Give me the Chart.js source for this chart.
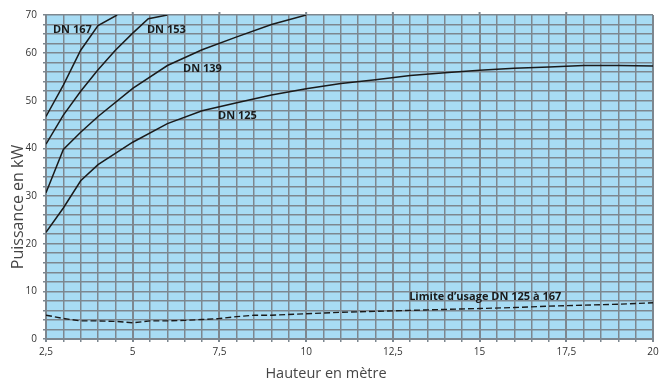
<!DOCTYPE html>
<html>
<head>
<meta charset="utf-8">
<script src="https://cdn.jsdelivr.net/npm/chart.js@4.4.1/dist/chart.umd.min.js"></script>
<style>
    html, body { margin: 0; padding: 0; background: #fff; }
    #wrap { width: 659px; height: 381px; }
</style>
</head>
<body>
<div id="wrap"><canvas id="chart"></canvas></div>
<script>
const heights167 = [2.5, 3, 3.5, 4, 4.55];
const power167 = [46.7, 53.3, 60.6, 65.8, 68];

const heights153 = [2.5, 3, 3.5, 4, 4.5, 5, 5.45, 6];
const power153 = [40.9, 47, 52, 56.5, 60.6, 64.2, 67.2, 68];

const heights139 = [2.5, 3, 3.5, 4, 5, 6, 7, 8, 9, 10];
const power139 = [30.7, 39.8, 43.4, 46.7, 52.6, 57.4, 60.7, 63.4, 66, 68];

const heights125 = [2.5, 3, 3.5, 4, 5, 6, 7, 8, 9, 10, 11, 12, 13, 14, 15, 16, 17, 18, 19, 20];
const power125 = [22.4, 27.5, 33.2, 36.6, 41.3, 45.2, 47.9, 49.6, 51.2, 52.5, 53.6, 54.4, 55.3, 55.9, 56.4, 56.8, 57.1, 57.4, 57.4, 57.3];

const heightsLimit = [2.5, 3, 3.5, 4, 4.5, 5, 5.5, 6, 6.5, 7, 7.5, 8, 8.5, 9, 10, 11, 12, 13, 14, 15, 16, 17, 18, 19, 20];
const powerLimit = [5.0, 4.3, 3.8, 3.8, 3.7, 3.4, 3.8, 3.8, 3.9, 4.1, 4.3, 4.7, 5.0, 5.0, 5.3, 5.6, 5.8, 6.0, 6.2, 6.4, 6.6, 6.9, 7.1, 7.3, 7.6];

// textes posés sur les courbes (coordonnées en unités du graphique)
const curveLabels = ["DN 167", "DN 153", "DN 139", "DN 125", "Limite d’usage DN 125 à 167"];
const curveLabelX = [2.7, 5.41, 6.45, 7.46, 12.97];
const curveLabelY = [64.8, 64.8, 56.75, 46.75, 8.9];

const xTitle = "Hauteur en mètre";
const yTitle = "Puissance en kW";

const gridColor = "#7d878f";
const isMajorX = v => Math.abs(v / 2.5 - Math.round(v / 2.5)) < 1e-6;

function toPoints(xs, ys) {
    return xs.map((x, i) => ({ x: x, y: ys[i] }));
}

const plotDecor = {
    id: "plotDecor",
    beforeDraw(chart) {
        const { ctx, chartArea } = chart;
        ctx.save();
        ctx.fillStyle = "#a8dcf4";
        ctx.fillRect(chartArea.left, chartArea.top, chartArea.right - chartArea.left, chartArea.bottom - chartArea.top);
        ctx.restore();
    },
    afterDraw(chart) {
        const { ctx, chartArea, scales } = chart;
        ctx.save();
        // petits traits au-dessus du cadre pour les graduations principales
        ctx.strokeStyle = gridColor;
        ctx.lineWidth = 2;
        scales.x.ticks.forEach(t => {
            if (isMajorX(t.value) && t.value > 2.5 && t.value < 20) {
                const px = scales.x.getPixelForValue(t.value);
                ctx.beginPath();
                ctx.moveTo(px, chartArea.top);
                ctx.lineTo(px, chartArea.top - 3);
                ctx.stroke();
            }
        });
        // étiquettes des courbes
        ctx.fillStyle = "#1a1a1a";
        ctx.font = "bold 11px 'Open Sans'";
        ctx.textAlign = "left";
        ctx.textBaseline = "middle";
        curveLabels.forEach((txt, i) => {
            ctx.fillText(txt, scales.x.getPixelForValue(curveLabelX[i]), scales.y.getPixelForValue(curveLabelY[i]));
        });
        // titres des axes
        ctx.fillStyle = "#454545";
        ctx.textAlign = "center";
        ctx.textBaseline = "alphabetic";
        ctx.font = "14.5px 'Open Sans'";
        ctx.fillText(xTitle, 326, 378);
        ctx.translate(23, 207);
        ctx.rotate(-Math.PI / 2);
        ctx.font = "16px 'Open Sans'";
        ctx.fillText(yTitle, 0, 0);
        ctx.restore();
    }
};

const lineStyle = {
    borderColor: "#1a1a1a",
    borderWidth: 1.5,
    pointRadius: 0,
    tension: 0,
    fill: false
};

new Chart(document.getElementById("chart"), {
    type: "line",
    data: {
        datasets: [
            { label: "DN 167", data: toPoints(heights167, power167), ...lineStyle },
            { label: "DN 153", data: toPoints(heights153, power153), ...lineStyle },
            { label: "DN 139", data: toPoints(heights139, power139), ...lineStyle },
            { label: "DN 125", data: toPoints(heights125, power125), ...lineStyle },
            { label: "Limite", data: toPoints(heightsLimit, powerLimit), ...lineStyle, borderDash: [6, 3], borderWidth: 1.4 }
        ]
    },
    plugins: [plotDecor],
    options: {
        responsive: true,
        maintainAspectRatio: false,
        animation: false,
        layout: { padding: { top: 15, right: 0, left: 0, bottom: 0 } },
        plugins: {
            legend: { display: false },
            tooltip: { enabled: false }
        },
        scales: {
            x: {
                type: "linear",
                min: 2.5,
                max: 20,
                afterFit: scale => {
                    scale.height = 42;
                    scale.paddingRight = 6;
                    scale.paddingLeft = 0;
                },
                ticks: {
                    stepSize: 0.5,
                    autoSkip: false,
                    maxRotation: 0,
                    padding: 4,
                    color: "#333",
                    font: { family: "'Open Sans'", size: 10 },
                    callback: v => isMajorX(v) ? String(v).replace(".", ",") : ""
                },
                grid: {
                    color: gridColor,
                    lineWidth: c => (c.tick && isMajorX(c.tick.value)) ? 2 : 1.5,
                    tickLength: 3
                },
                border: { color: gridColor, width: 2 }
            },
            y: {
                min: 0,
                max: 68,
                afterFit: scale => { scale.width = 46; },
                ticks: {
                    stepSize: 2,
                    autoSkip: false,
                    padding: 6,
                    color: "#333",
                    font: { family: "'Open Sans'", size: 10 },
                    callback: v => v === 68 ? "70" : (v % 10 === 0 ? String(v) : "")
                },
                grid: {
                    color: gridColor,
                    lineWidth: 1.5,
                    tickLength: 3
                },
                border: { color: gridColor, width: 2 }
            }
        }
    }
});
</script>
</body>
</html>
